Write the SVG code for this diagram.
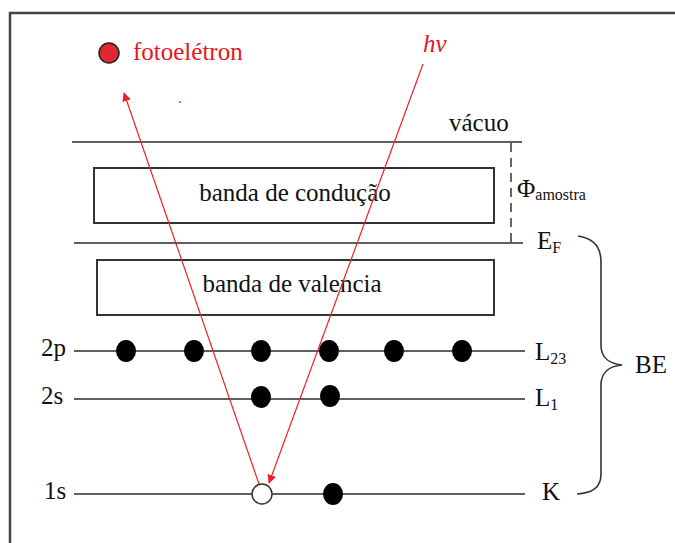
<svg xmlns="http://www.w3.org/2000/svg" width="675" height="543" viewBox="0 0 675 543">
<defs>
<style>
.t{font-family:"Liberation Serif","Times New Roman",serif;fill:#111;font-size:25px}
.s{font-size:16px}
.r{fill:#e8141e}
.ln{stroke:#2a2a2a;stroke-width:1.6;fill:none}
.box{stroke:#333;stroke-width:2;fill:none}
.red{stroke:#f0202a;stroke-width:1.2;fill:none}
.dot{fill:#000}
</style>
<marker id="ah" viewBox="0 0 10 10" refX="9" refY="5" markerWidth="9" markerHeight="9" markerUnits="userSpaceOnUse" orient="auto">
<path d="M0,0 L10,5 L0,10 z" fill="#f0202a"/>
</marker>
</defs>
<rect width="675" height="543" fill="#fff"/>
<g id="frame"><path d="M10,543 V13 H675" stroke="#444" stroke-width="2.5" fill="none"/></g>

<g id="vacuum"><line class="ln" x1="72" y1="142" x2="522" y2="142"/><text class="t" x="449" y="131">vácuo</text></g>
<g id="workfunction"><line x1="511" y1="143" x2="511" y2="242" stroke="#333" stroke-width="1.5" stroke-dasharray="9,6"/>
<text class="t" x="517" y="197" font-size="21">Φ<tspan class="s" dy="3">amostra</tspan></text></g>
<g id="conduction"><rect class="box" x="94" y="168" width="400" height="55"/><text class="t" x="295" y="201" text-anchor="middle">banda de condução</text></g>
<g id="fermi"><line class="ln" x1="74" y1="243" x2="523" y2="243"/><text class="t" x="537" y="249">E<tspan class="s" dy="4">F</tspan></text></g>
<g id="valence"><rect class="box" x="97" y="260" width="397" height="55"/><text class="t" x="292" y="292" text-anchor="middle">banda de valencia</text></g>

<g id="level2p"><line class="ln" x1="74" y1="351" x2="525" y2="351"/>
<text class="t" x="41" y="356">2p</text>
<text class="t" x="535" y="360">L<tspan class="s" dy="4">23</tspan></text>
<ellipse class="dot" cx="126" cy="351" rx="10" ry="11"/>
<ellipse class="dot" cx="194" cy="351" rx="10" ry="11"/>
<ellipse class="dot" cx="261" cy="351" rx="10" ry="11"/>
<ellipse class="dot" cx="329" cy="351" rx="10" ry="11"/>
<ellipse class="dot" cx="394" cy="351" rx="10" ry="11"/>
<ellipse class="dot" cx="462" cy="351" rx="10" ry="11"/>
</g>
<g id="level2s"><line class="ln" x1="74" y1="399" x2="525" y2="399"/>
<text class="t" x="41" y="404">2s</text>
<text class="t" x="535" y="406">L<tspan class="s" dy="4">1</tspan></text>
<ellipse class="dot" cx="261" cy="397" rx="10" ry="11"/>
<ellipse class="dot" cx="330" cy="396" rx="10" ry="11"/>
</g>
<g id="level1s"><line class="ln" x1="74" y1="494" x2="525" y2="494"/>
<text class="t" x="44" y="499">1s</text>
<text class="t" x="542" y="500">K</text>
<circle cx="262" cy="494" r="10" fill="#fff" stroke="#333" stroke-width="1.5"/>
<ellipse class="dot" cx="333" cy="494" rx="10" ry="11"/>
</g>

<g id="BE"><path d="M578,236 C592,238 601,246 601,262 V345 C601,358 610,364 622,365 C610,366 601,372 601,385 V474 C601,488 592,493 577,494" stroke="#333" stroke-width="1.6" fill="none"/>
<text class="t" x="635" y="373">BE</text></g>

<g id="photoelectron"><circle cx="109" cy="53" r="10" fill="#e32630" stroke="#222" stroke-width="1.5"/>
<text class="t r" x="133" y="60">fotoelétron</text>
<circle cx="180" cy="102" r="0.9" fill="#f0202a"/></g>
<g id="photon"><text class="t r" x="423" y="52" font-size="24" font-style="italic">hν</text></g>

<g id="connectors">
<line class="red" x1="259" y1="484" x2="124" y2="93" marker-end="url(#ah)"/>
<line class="red" x1="423" y1="64" x2="269" y2="483" marker-end="url(#ah)"/>
</g>
</svg>
